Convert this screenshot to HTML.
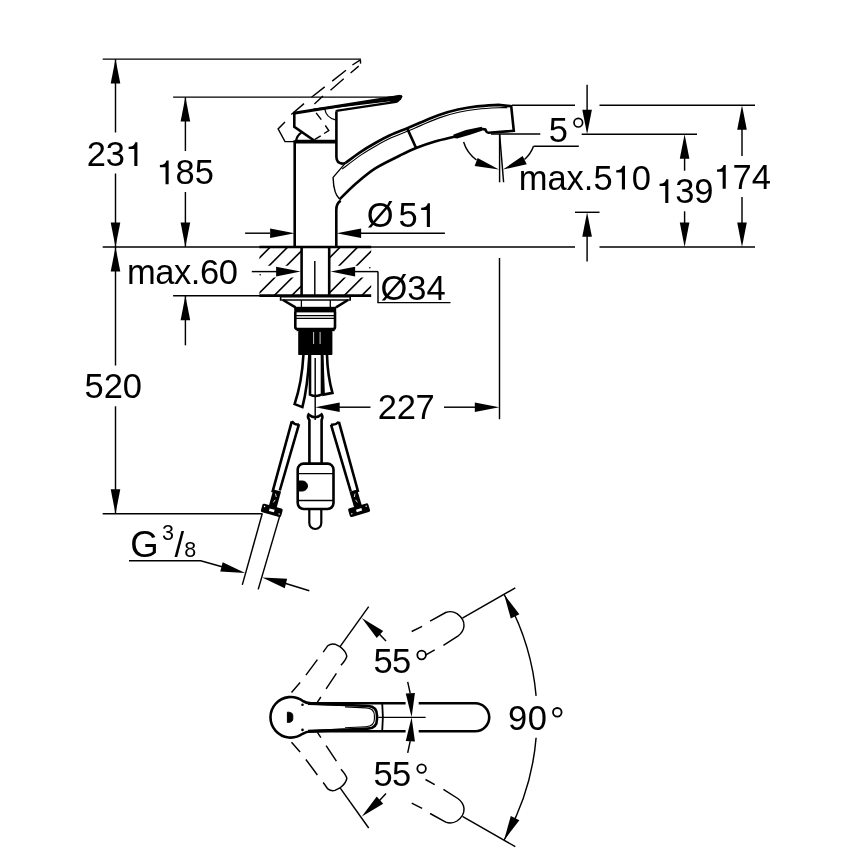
<!DOCTYPE html>
<html><head><meta charset="utf-8"><style>
html,body{margin:0;padding:0;background:#fff;}
svg{display:block;}
text{font-family:"Liberation Sans",sans-serif;fill:#000;}
</style></head><body>
<svg width="868" height="868" viewBox="0 0 868 868" style="will-change:transform">
<rect width="868" height="868" fill="#fff"/>
<line x1="102.7" y1="59.1" x2="361" y2="59.1" stroke="#000" stroke-width="1.45" />
<line x1="173.1" y1="97.1" x2="398" y2="97.1" stroke="#000" stroke-width="1.45" />
<line x1="102.7" y1="247" x2="575" y2="247" stroke="#000" stroke-width="1.45" />
<line x1="599.5" y1="247" x2="755" y2="247" stroke="#000" stroke-width="1.45" />
<line x1="115.5" y1="59.2" x2="115.5" y2="132.5" stroke="#000" stroke-width="1.45" />
<line x1="115.5" y1="173.5" x2="115.5" y2="247" stroke="#000" stroke-width="1.45" />
<polygon points="115.50,59.10 120.30,83.60 110.70,83.60" fill="#000"/>
<polygon points="115.50,247.00 110.70,222.50 120.30,222.50" fill="#000"/>
<text x="86.70" y="166" font-size="34.5">23</text>
<path transform="translate(125.06,166) scale(0.03450)" d="M358,0 H268 V-492 H104 V-556 Q262,-560 296,-690 H358 Z" fill="#000"/>
<line x1="185.4" y1="97.2" x2="185.4" y2="151" stroke="#000" stroke-width="1.45" />
<line x1="185.4" y1="192" x2="185.4" y2="247" stroke="#000" stroke-width="1.45" />
<polygon points="185.40,97.10 190.20,121.60 180.60,121.60" fill="#000"/>
<polygon points="185.40,247.00 180.60,222.50 190.20,222.50" fill="#000"/>
<path transform="translate(156.30,184.3) scale(0.03450)" d="M358,0 H268 V-492 H104 V-556 Q262,-560 296,-690 H358 Z" fill="#000"/>
<text x="175.48" y="184.3" font-size="34.5">85</text>
<line x1="115.5" y1="247" x2="115.5" y2="365.5" stroke="#000" stroke-width="1.45" />
<line x1="115.5" y1="406.3" x2="115.5" y2="513.8" stroke="#000" stroke-width="1.45" />
<polygon points="115.50,247.00 120.30,271.50 110.70,271.50" fill="#000"/>
<polygon points="115.50,513.80 110.70,489.30 120.30,489.30" fill="#000"/>
<text x="84.50" y="398.2" font-size="34.5">520</text>
<line x1="102.7" y1="513.8" x2="262.5" y2="513.8" stroke="#000" stroke-width="1.45" />
<text x="126.90" y="284" font-size="34.5" letter-spacing="-0.4">max.60</text>
<line x1="173.1" y1="295.7" x2="371" y2="295.7" stroke="#000" stroke-width="1.45" />
<line x1="185.4" y1="295.7" x2="185.4" y2="345.3" stroke="#000" stroke-width="1.45" />
<polygon points="185.40,295.70 190.20,320.20 180.60,320.20" fill="#000"/>
<line x1="245.1" y1="233.2" x2="270" y2="233.2" stroke="#000" stroke-width="1.45" />
<polygon points="294.60,233.20 270.10,238.00 270.10,228.40" fill="#000"/>
<line x1="360" y1="233.2" x2="444.9" y2="233.2" stroke="#000" stroke-width="1.45" />
<polygon points="336.60,233.20 361.10,228.40 361.10,238.00" fill="#000"/>
<text x="366.70" y="227" font-size="34.5">Ø</text>
<text x="398.40" y="227" font-size="34.5">5</text>
<path transform="translate(417.58,227) scale(0.03450)" d="M358,0 H268 V-492 H104 V-556 Q262,-560 296,-690 H358 Z" fill="#000"/>
<path d="M378,271.6 V302.6 H450.5" stroke="#000" stroke-width="1.45" fill="none" />
<text x="380.50" y="300" font-size="34.5">Ø34</text>
<polygon points="315.20,407.20 339.70,402.40 339.70,412.00" fill="#000"/>
<line x1="339" y1="407.2" x2="370.5" y2="407.2" stroke="#000" stroke-width="1.45" />
<text x="377.80" y="419" font-size="34.5" letter-spacing="-0.35">227</text>
<line x1="444" y1="407.2" x2="476" y2="407.2" stroke="#000" stroke-width="1.45" />
<polygon points="499.30,407.20 474.80,412.00 474.80,402.40" fill="#000"/>
<line x1="499.5" y1="258" x2="499.5" y2="419.2" stroke="#000" stroke-width="1.45" />
<text x="130.30" y="557" font-size="36.5">G</text>
<text x="162.10" y="539.9" font-size="21.5">3</text>
<text x="174.40" y="557" font-size="34.5">/</text>
<text x="184.20" y="556.5" font-size="21.5">8</text>
<path d="M129,560.7 H200.7 L222,566.8" stroke="#000" stroke-width="1.45" fill="none" />
<polygon points="245.20,572.90 220.28,571.46 222.66,562.16" fill="#000"/>
<polygon points="262.20,577.40 287.12,578.84 284.74,588.14" fill="#000"/>
<line x1="285" y1="583.2" x2="309.3" y2="590.7" stroke="#000" stroke-width="1.45" />
<line x1="262.2" y1="513.8" x2="242.3" y2="584.9" stroke="#000" stroke-width="1.45" />
<line x1="280.2" y1="514.4" x2="258.2" y2="589.4" stroke="#000" stroke-width="1.45" />
<line x1="512" y1="105.2" x2="575" y2="105.2" stroke="#000" stroke-width="1.45" />
<line x1="599.5" y1="105.2" x2="755" y2="105.2" stroke="#000" stroke-width="1.45" />
<line x1="587.1" y1="84.8" x2="587.1" y2="112" stroke="#000" stroke-width="1.45" />
<polygon points="587.10,134.20 582.30,109.70 591.90,109.70" fill="#000"/>
<line x1="581.7" y1="134.2" x2="697" y2="134.2" stroke="#000" stroke-width="1.45" />
<line x1="491" y1="133.9" x2="540.3" y2="133.9" stroke="#000" stroke-width="1.45" />
<text x="548.70" y="141.6" font-size="34.5">5</text>
<circle cx="578.3" cy="122.7" r="4.3" fill="none" stroke="#000" stroke-width="1.7"/>
<path d="M578.8,146.2 H533.5" stroke="#000" stroke-width="1.45" fill="none" />
<text x="518.70" y="189.5" font-size="34.5">max.5</text>
<path transform="translate(612.64,189.5) scale(0.03450)" d="M358,0 H268 V-492 H104 V-556 Q262,-560 296,-690 H358 Z" fill="#000"/>
<text x="631.83" y="189.5" font-size="34.5">0</text>
<line x1="684.6" y1="157" x2="684.6" y2="170.7" stroke="#000" stroke-width="1.45" />
<line x1="684.6" y1="211.3" x2="684.6" y2="224" stroke="#000" stroke-width="1.45" />
<polygon points="684.60,134.20 689.40,158.70 679.80,158.70" fill="#000"/>
<polygon points="684.60,247.00 679.80,222.50 689.40,222.50" fill="#000"/>
<path transform="translate(656.00,203) scale(0.03450)" d="M358,0 H268 V-492 H104 V-556 Q262,-560 296,-690 H358 Z" fill="#000"/>
<text x="675.18" y="203" font-size="34.5">39</text>
<line x1="742" y1="128" x2="742" y2="156" stroke="#000" stroke-width="1.45" />
<line x1="742" y1="197" x2="742" y2="224" stroke="#000" stroke-width="1.45" />
<polygon points="742.00,105.20 746.80,129.70 737.20,129.70" fill="#000"/>
<polygon points="742.00,247.00 737.20,222.50 746.80,222.50" fill="#000"/>
<path transform="translate(713.40,188.7) scale(0.03450)" d="M358,0 H268 V-492 H104 V-556 Q262,-560 296,-690 H358 Z" fill="#000"/>
<text x="732.58" y="188.7" font-size="34.5">74</text>
<line x1="575" y1="212.3" x2="599.5" y2="212.3" stroke="#000" stroke-width="1.45" />
<polygon points="587.10,212.30 591.90,236.80 582.30,236.80" fill="#000"/>
<line x1="587.1" y1="235" x2="587.1" y2="261.5" stroke="#000" stroke-width="1.45" />
<defs><clipPath id="hl"><rect x="259.4" y="247" width="41.6" height="18.8"/><rect x="259.4" y="277.4" width="41.6" height="18.1"/></clipPath><clipPath id="hr"><rect x="330" y="247" width="41.2" height="18.8"/><rect x="330" y="277.4" width="41.2" height="18.1"/></clipPath></defs>
<path d="M182.3,300 L239.3,243 M199.8,300 L256.8,243 M217.3,300 L274.3,243 M234.8,300 L291.8,243 M252.3,300 L309.3,243 M269.8,300 L326.8,243 M287.3,300 L344.3,243 M304.8,300 L361.8,243 M322.3,300 L379.3,243 M339.8,300 L396.8,243 M357.3,300 L414.3,243" stroke="#000" stroke-width="1.6" fill="none" clip-path="url(#hl)"/>
<path d="M182.3,300 L239.3,243 M199.8,300 L256.8,243 M217.3,300 L274.3,243 M234.8,300 L291.8,243 M252.3,300 L309.3,243 M269.8,300 L326.8,243 M287.3,300 L344.3,243 M304.8,300 L361.8,243 M322.3,300 L379.3,243 M339.8,300 L396.8,243 M357.3,300 L414.3,243" stroke="#000" stroke-width="1.6" fill="none" clip-path="url(#hr)"/>
<line x1="251.8" y1="271.6" x2="277" y2="271.6" stroke="#000" stroke-width="1.45" />
<polygon points="300.60,271.60 276.10,276.40 276.10,266.80" fill="#000"/>
<polygon points="330.60,271.60 355.10,266.80 355.10,276.40" fill="#000"/>
<line x1="353" y1="271.6" x2="378" y2="271.6" stroke="#000" stroke-width="1.45" />
<circle cx="260.2" cy="274.7" r="0.8"/><circle cx="369.8" cy="267.7" r="0.8"/>
<line x1="259.4" y1="247" x2="371.2" y2="247" stroke="#000" stroke-width="2.6" />
<line x1="259.4" y1="295.6" x2="371.2" y2="295.6" stroke="#000" stroke-width="2.6" />
<path d="M294.7,247 V141.5 H336.2" stroke="#000" stroke-width="2.6" fill="none" />
<path d="M336.4,111.5 V157 Q336.6,163 342,163.6 Q344,163.6 345.6,162.9" stroke="#000" stroke-width="2.6" fill="none" />
<path d="M340.7,200.7 Q336.3,203.5 336.3,210 V247" stroke="#000" stroke-width="2.6" fill="none" />
<line x1="301.6" y1="247" x2="301.6" y2="295.5" stroke="#000" stroke-width="2.6" />
<line x1="329.2" y1="247" x2="329.2" y2="295.5" stroke="#000" stroke-width="2.6" />
<line x1="314.8" y1="261" x2="314.8" y2="295.5" stroke="#000" stroke-width="1.45" />
<path d="M345.60,162.90 C348.00,161.13 355.05,155.62 360.00,152.30 C364.95,148.98 370.30,145.83 375.30,143.00 C380.30,140.17 384.67,137.77 390.00,135.30 C395.33,132.83 402.30,130.28 407.30,128.20 C412.30,126.12 414.72,125.00 420.00,122.80 C425.28,120.60 432.67,117.20 439.00,115.00 C445.33,112.80 451.67,111.03 458.00,109.60 C464.33,108.17 470.23,107.18 477.00,106.40 C483.77,105.62 495.00,105.15 498.60,104.90 L511.2,106.2 L513.8,130.8 L488.4,132.7 Q486.6,132.6 486,130.8 L485.3,129.4 L480.8,128.9" stroke="#000" stroke-width="2.6" fill="none" />
<polygon points="481.8,126.8 482,130.8 470,134.8 457,138.6 452.5,137.8 453.6,134.6 466,130" fill="#000"/>
<path d="M453.60,136.90 C450.50,137.67 441.25,139.65 435.00,141.50 C428.75,143.35 421.93,145.67 416.10,148.00 C410.27,150.33 406.80,152.10 400.00,155.50 C393.20,158.90 382.63,163.73 375.30,168.40 C367.97,173.07 361.98,178.32 356.00,183.50 C350.02,188.68 342.17,196.83 339.40,199.50" stroke="#000" stroke-width="2.6" fill="none" />
<path d="M345.6,162.9 L333.1,177.4 Q333.3,186 335.2,191.9 Q336.5,196 339.4,198.8" stroke="#000" stroke-width="1.4" fill="none" />
<path d="M342.10,169.10 C345.34,166.69 355.80,158.57 361.56,154.63 C367.32,150.68 371.74,148.23 376.68,145.44 C381.62,142.64 385.89,140.28 391.18,137.84 C396.46,135.40 403.39,132.86 408.38,130.78 C413.36,128.71 415.82,127.57 421.08,125.38 C426.33,123.19 433.66,119.82 439.92,117.64 C446.18,115.47 452.38,113.74 458.62,112.33 C464.85,110.92 470.63,109.95 477.32,109.18 C484.02,108.41 493.78,107.94 498.79,107.69 C503.81,107.45 505.97,107.70 507.40,107.70" stroke="#000" stroke-width="1.1" fill="none" />
<line x1="407.3" y1="128.6" x2="416.1" y2="148" stroke="#000" stroke-width="2.6" />
<line x1="499.6" y1="134" x2="499.6" y2="182.3" stroke="#000" stroke-width="1.45" />
<line x1="499.6" y1="134" x2="503.6" y2="182.3" stroke="#000" stroke-width="1.45" />
<path d="M463.6,142 Q467,153 476.5,160" stroke="#000" stroke-width="1.45" fill="none" />
<path d="M533.5,146.2 Q531,153.5 524.5,159.5" stroke="#000" stroke-width="1.45" fill="none" />
<polygon points="499,169.6 474.6,166.1 477.6,158" fill="#000"/>
<polygon points="503,169.6 522.6,155.9 526.8,164.3" fill="#000"/>
<path d="M294.3,112.6 L294.3,126.8 L315.2,141.3" stroke="#000" stroke-width="2.6" fill="none" />
<path d="M293.6,113.2 L400.6,96.2" stroke="#000" stroke-width="3" fill="none" />
<path d="M313.5,109.6 L399,99.3" stroke="#000" stroke-width="2" fill="none" />
<path d="M336.2,111.6 Q336.4,110.9 337.7,110.7 L396,101.9" stroke="#000" stroke-width="2.2" fill="none" />
<polygon points="385,97.3 401.5,95 402.6,96.6 401,99.5 397.4,102.8 392,103 388,100" fill="#000"/>
<path d="M324.8,109 Q326,117.5 335.5,119.8" stroke="#000" stroke-width="1.3" fill="none" />
<path d="M296,141 Q297,135.5 301.3,132.6" stroke="#000" stroke-width="2.2" fill="none" />
<line x1="295" y1="141.6" x2="336.2" y2="141.6" stroke="#000" stroke-width="3.6" />
<path d="M360.4,59.8 L352.4,65 M346,70.2 L332.2,81.1 M324.7,86.9 L311.5,97.2 M304,103.6 L291.3,114.5 M285,122 L278.1,128.9 L285,141.6 L294.2,141.6" stroke="#000" stroke-width="1.4" fill="none" />
<path d="M360.4,59.8 L360.6,63.6 M358.7,66.1 L350.6,73 M343.7,78.8 L330.5,90.3 M323,96.1 L314.4,104.1 M316.1,112.8 L321.3,119.7 M325.3,125.5 L328.8,130.6 L324.1,133.5 M320.7,135.8 L314.9,139.3" stroke="#000" stroke-width="1.4" fill="none" />
<path d="M280.6,296.6 H350.2 V300 H280.6 Z" stroke="#000" stroke-width="1.6" fill="none" />
<path d="M283,300 L295.5,307.4 M348,300 L336,307.4" stroke="#000" stroke-width="2.6" fill="none" />
<line x1="301.4" y1="300" x2="301.4" y2="307" stroke="#000" stroke-width="1.3" />
<line x1="330.3" y1="300" x2="330.3" y2="307" stroke="#000" stroke-width="1.3" />
<rect x="294.2" y="306.8" width="42" height="5.6" fill="#000"/>
<path d="M295.3,312 V327 Q295.3,329 297.5,329 H333 Q335,329 335,327 V312" stroke="#000" stroke-width="2.6" fill="none" />
<line x1="296" y1="315.6" x2="335" y2="315.6" stroke="#000" stroke-width="1.3" />
<line x1="296" y1="318.4" x2="335" y2="318.4" stroke="#000" stroke-width="1.3" />
<rect x="298.2" y="330.8" width="34.2" height="24.3" rx="1.2" fill="#000"/>
<rect x="296.6" y="328.6" width="38" height="2.6" fill="#000"/>
<line x1="313.6" y1="332" x2="313.6" y2="344" stroke="#ccc" stroke-width="1"/>
<line x1="320.1" y1="332" x2="320.1" y2="344" stroke="#ccc" stroke-width="1"/>
<path d="M303.4,355 Q302,382 294.6,404.1 L302.4,407.1 Q307.5,388 309.4,355" stroke="#000" stroke-width="2.6" fill="none" />
<path d="M310,355 V394.6 Q316,397.5 322,394.4 V355" stroke="#000" stroke-width="2.6" fill="none" />
<path d="M322.2,355 L323.6,394.6 L332.4,392.9 Q327.5,375 327,355" stroke="#000" stroke-width="2.6" fill="none" />
<line x1="315.2" y1="358" x2="315.2" y2="420" stroke="#000" stroke-width="1.45" />
<path d="M291.8,421.3 L272.4,492.3 M299,424.2 L279.8,490.5 M291.8,421.3 Q295,425.5 299,424.2" stroke="#000" stroke-width="2.6" fill="none" />
<path d="M331,424.6 L350.7,491.3 M338.9,421.9 L358.2,492 M331,424.6 Q335,425.5 338.9,421.9" stroke="#000" stroke-width="2.6" fill="none" />
<path d="M309.4,463 V420 Q307,417 308.6,414.5 Q315,420 321.6,414.5 Q323.2,417 321.6,420 V463" stroke="#000" stroke-width="2.6" fill="none" />
<rect x="297.7" y="463.6" width="35.8" height="45.4" rx="6" fill="#fff" stroke="#000" stroke-width="2.6"/>
<line x1="297.3" y1="473.7" x2="333.1" y2="473.7" stroke="#000" stroke-width="1.3" />
<line x1="297.3" y1="500.5" x2="333.1" y2="500.5" stroke="#000" stroke-width="1.3" />
<path d="M299,481 H302.5 A5,5 0 0 1 302.5,491 H299 Z" stroke="#000" stroke-width="1" fill="#000" />
<path d="M309.3,509 V523 A6,6 0 0 0 321.3,523 V509" stroke="#000" stroke-width="2.2" fill="none" />
<g transform="translate(271.8,510.3) rotate(15.3)"><rect x="-4" y="-20.5" width="8" height="17" fill="#000"/><rect x="-10.5" y="-4.3" width="21" height="8.8" rx="1.8" fill="#000"/><rect x="-2.6" y="-1.2" width="5.2" height="2.6" fill="#fff"/><circle cx="-8" cy="-1.8" r="0.7" fill="#fff"/><circle cx="8" cy="1.6" r="0.7" fill="#fff"/><path d="M-0.8,-17 L0.8,-14 M0.5,-11 L-0.6,-8" stroke="#fff" stroke-width="0.8"/></g>
<g transform="translate(359.1,510.2) rotate(-16.5)"><rect x="-4" y="-20.5" width="8" height="17" fill="#000"/><rect x="-10.5" y="-4.5" width="21" height="9" rx="1.8" fill="#000"/><rect x="-2.8" y="-1.4" width="5.6" height="2.6" fill="#fff"/><circle cx="-8" cy="1.4" r="0.7" fill="#fff"/><circle cx="8" cy="-1.8" r="0.7" fill="#fff"/><path d="M0.8,-17 L-0.8,-14 M-0.5,-11 L0.6,-8" stroke="#fff" stroke-width="0.8"/></g>
<path d="M291.5,692.4 L300.1,682.6 M305.9,675.1 L317.4,659.6 M323.2,652.1 L327.8,645.7 Q331,643.2 335,644.2 L339.9,646.6 Q345.8,651 346.8,656.1 Q346.5,659 341,665.3 M336.4,673.4 L326.1,688.9 M320.9,697 L317.4,702.2" stroke="#000" stroke-width="1.45" fill="none" />
<path d="M411.7,631.5 L422.1,626.3 M430.1,621.1 L445.7,612.5 Q451.5,610.3 457,613.6 Q464.5,619 464,626 Q463.5,632 457.8,636.1 L443.4,645.3 M434.7,649.9 L425.5,655.1" stroke="#000" stroke-width="1.45" fill="none" />
<path d="M291.5,742.2 L300.1,752.0 M305.9,759.5 L317.4,775.0 M323.2,782.5 L327.8,788.9 Q331.0,791.4 335.0,790.4 L339.9,788.0 Q345.8,783.6 346.8,778.5 Q346.5,775.6 341.0,769.3 M336.4,761.2 L326.1,745.7 M320.9,737.6 L317.4,732.4" stroke="#000" stroke-width="1.45" fill="none" />
<path d="M411.7,803.1 L422.1,808.3 M430.1,813.5 L445.7,822.1 Q451.5,824.3 457.0,821.0 Q464.5,815.6 464.0,808.6 Q463.5,802.6 457.8,798.5 L443.4,789.3 M434.7,784.7 L425.5,779.5" stroke="#000" stroke-width="1.45" fill="none" />
<path d="M306,703.2 H405.6 M418.7,703.2 H475.2 A14.05,14.05 0 0 1 475.2,731.3 H418.7 M405.6,731.3 H306" stroke="#000" stroke-width="2.6" fill="none" />
<path d="M302.6,700.8 A20.3,20.3 0 1 0 302.6,733.8 Q306,731.6 311,731.2 L368,728.6 Q377,728.2 377,719 V715.6 Q377,706.4 368,706 L311,703.4 Q306,703 302.6,700.8 Z" stroke="#000" stroke-width="2.6" fill="#fff" />
<path d="M345,706.9 L366,707.9 Q374.4,708.4 374.4,715.6 V719 Q374.4,726.2 366,726.7 L345,727.7" stroke="#000" stroke-width="1.1" fill="none" />
<line x1="308" y1="703.4" x2="345" y2="704.6" stroke="#000" stroke-width="3" />
<line x1="308" y1="731.2" x2="345" y2="730" stroke="#000" stroke-width="3" />
<path d="M287.4,712.2 H288.6 Q292.8,712.4 292.8,715.8 V718.8 Q292.8,722.2 288.6,722.4 H287.4 Z" stroke="#000" stroke-width="1" fill="#000" />
<circle cx="302.5" cy="704.7" r="1.3"/><circle cx="302.5" cy="729.9" r="1.3"/>
<path d="M382.2,703.2 Q383.6,717.3 382.2,731.3" stroke="#000" stroke-width="1.8" fill="none" />
<line x1="378.2" y1="717.3" x2="425.6" y2="717.3" stroke="#000" stroke-width="1.2" />
<polygon points="411.60,717.30 405.75,693.57 414.94,693.09" fill="#000"/>
<polygon points="411.60,717.30 414.94,741.51 405.75,741.03" fill="#000"/>
<line x1="410.2" y1="693.4" x2="407.7" y2="681.8" stroke="#000" stroke-width="1.45" />
<line x1="410.2" y1="741.2" x2="407.7" y2="752.8" stroke="#000" stroke-width="1.45" />
<text x="373.40" y="673.3" font-size="34.5" letter-spacing="-0.5">55</text>
<circle cx="421.6" cy="655" r="4.3" fill="none" stroke="#000" stroke-width="1.8"/>
<text x="373.40" y="786.3" font-size="34.5" letter-spacing="-0.5">55</text>
<circle cx="421.6" cy="768.6" r="4.3" fill="none" stroke="#000" stroke-width="1.8"/>
<text x="508.10" y="730.3" font-size="34.5" letter-spacing="0.4">90</text>
<circle cx="557.3" cy="712.3" r="4.3" fill="none" stroke="#000" stroke-width="1.8"/>
<path d="M504.1,594.5 A245.5,245.5 0 0 1 536.1,695.9 M536.1,737.8 A245.5,245.5 0 0 1 504.1,840.0" stroke="#000" stroke-width="1.45" fill="none" />
<polygon points="504.11,594.55 519.37,614.31 510.79,618.61" fill="#000"/>
<polygon points="504.11,840.05 510.79,815.99 519.37,820.29" fill="#000"/>
<line x1="462.4" y1="618.2" x2="515.3" y2="587.9" stroke="#000" stroke-width="1.45" />
<line x1="462.4" y1="816.3999999999999" x2="515.3" y2="846.6999999999999" stroke="#000" stroke-width="1.45" />
<line x1="339.9" y1="646.9" x2="368.7" y2="606.6" stroke="#000" stroke-width="1.45" />
<line x1="339.9" y1="787.6999999999999" x2="368.7" y2="827.9999999999999" stroke="#000" stroke-width="1.45" />
<polygon points="361.80,618.00 383.17,630.90 376.73,638.01" fill="#000"/>
<polygon points="361.80,816.60 376.73,796.59 383.17,803.70" fill="#000"/>
<line x1="378.8" y1="633.4" x2="386" y2="641" stroke="#000" stroke-width="1.45" />
<line x1="378.8" y1="801.1999999999999" x2="386" y2="793.5999999999999" stroke="#000" stroke-width="1.45" />
</svg>
</body></html>
